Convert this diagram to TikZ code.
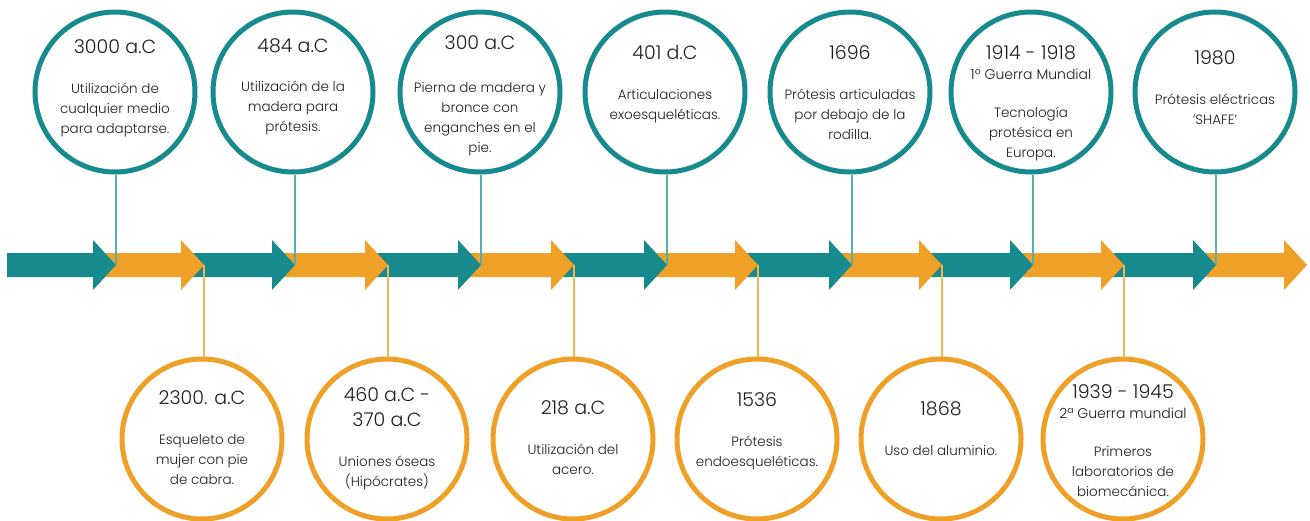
\documentclass[tikz,border=0pt]{standalone}
\usepackage{fontspec}
\setmainfont{Poppins}[UprightFont={* Light}]
\usepackage{tikz}
\usetikzlibrary{positioning,calc}

\definecolor{tealc}{RGB}{22,138,140}
\definecolor{orangec}{RGB}{239,160,38}
\definecolor{teall}{RGB}{86,172,174}
\definecolor{orangel}{RGB}{243,180,84}
\definecolor{inkc}{RGB}{30,30,30}

\begin{document}
\begin{tikzpicture}[
        x=1pt, y=-1pt,
        topcirc/.style={circle, draw=tealc, line width=5pt, fill=white, minimum size=160pt, inner sep=0pt},
        botcirc/.style={circle, draw=orangec, line width=5pt, fill=white, minimum size=160pt, inner sep=0pt},
        txt/.style={align=center, text=inkc, inner sep=0pt, font=\fontsize{13.5}{20}\selectfont},
        tline/.style={draw=teall, line width=1.8pt},
        oline/.style={draw=orangel, line width=1.8pt}
    ]
    \useasboundingbox (0,0) rectangle (1310,520);

    % Arrows, from the last one back to the first
    \foreach \k/\tip/\prev in {14/1307/1216,13/1216/1124,12/1124/1033,11/1033/942,10/942/852,9/852/758,8/758/667,7/667/574,6/574/481,5/481/388,4/388/295,3/295/204,2/204/116,1/116/19} {
        \ifodd\k \def\arrcol{tealc}\else\def\arrcol{orangec}\fi
        \fill[\arrcol] (\prev-12,253) -- (\tip-23,253) -- (\tip-23,240) -- (\tip,265)
            -- (\tip-23,290) -- (\tip-23,277) -- (\prev-12,277) -- cycle;
    }

    % Tip points on the timeline
    \foreach \k/\tip in {1/116,2/204,3/295,4/388,5/481,6/574,7/667,8/758,9/852,10/942,11/1033,12/1124,13/1216} {
        \coordinate (P\k) at (\tip,265);
    }

    % Top circles
    \node[topcirc] (C1) at (115,92) {};
    \node[topcirc] (C2) at (293,92) {};
    \node[topcirc] (C3) at (480,92) {};
    \node[topcirc] (C4) at (665,92) {};
    \node[topcirc] (C5) at (850,92) {};
    \node[topcirc] (C6) at (1031,92) {};
    \node[topcirc] (C7) at (1215,92) {};

    % Bottom circles
    \node[botcirc] (D1) at (202,439) {};
    \node[botcirc] (D2) at (387,439) {};
    \node[botcirc] (D3) at (573,439) {};
    \node[botcirc] (D4) at (757,439) {};
    \node[botcirc] (D5) at (941,439) {};
    \node[botcirc] (D6) at (1123,439) {};

    % Connect circles to the timeline
    \draw[tline] (P1 |- C1.south) -- (P1);
    \draw[tline] (P3 |- C2.south) -- (P3);
    \draw[tline] (P5 |- C3.south) -- (P5);
    \draw[tline] (P7 |- C4.south) -- (P7);
    \draw[tline] (P9 |- C5.south) -- (P9);
    \draw[tline] (P11 |- C6.south) -- (P11);
    \draw[tline] (P13 |- C7.south) -- (P13);
    \draw[oline] (P2 |- D1.north) -- (P2);
    \draw[oline] (P4 |- D2.north) -- (P4);
    \draw[oline] (P6 |- D3.north) -- (P6);
    \draw[oline] (P8 |- D4.north) -- (P8);
    \draw[oline] (P10 |- D5.north) -- (P10);
    \draw[oline] (P12 |- D6.north) -- (P12);

    % Texts
    \node[txt] (L1) at ($(C1)+(0,-4)$) {{\fontsize{19}{20}\selectfont 3000 a.C}\\[20pt]Utilización de\\cualquier medio\\para adaptarse.};
    \node[txt] (L2) at ($(C2)+(0,-5)$) {{\fontsize{19}{20}\selectfont 484 a.C}\\[19pt]Utilización de la\\madera para\\prótesis.};
    \node[txt] (L3) at ($(C3)+(0,4)$) {{\fontsize{19}{20}\selectfont 300 a.C}\\[23pt]Pierna de madera y\\bronce con\\enganches en el\\pie.};
    \node[txt] (L4) at ($(C4)+(0,-8)$) {{\fontsize{19}{20}\selectfont 401 d.C}\\[20pt]Articulaciones\\exoesqueléticas.};
    \node[txt] (L5) at ($(C5)+(0,1)$) {{\fontsize{19}{20}\selectfont 1696}\\[20pt]Prótesis articuladas\\por debajo de la\\rodilla.};
    \node[txt] (L6) at ($(C6)+(0,11)$) {{\fontsize{19}{20}\selectfont 1914 - 1918}\\{\fontsize{14}{20}\selectfont 1º Guerra Mundial}\\[18pt]Tecnología\\protésica en\\Europa.};
    \node[txt] (L7) at ($(C7)+(0,-4)$) {{\fontsize{19}{20}\selectfont 1980}\\[20pt]Prótesis eléctricas\\‘SHAFE’};

    \node[txt] (M1) at ($(D1)+(0,-1)$) {{\fontsize{19}{20}\selectfont 2300. a.C}\\[20pt]Esqueleto de\\mujer con pie\\de cabra.};
    \node[txt] (M2) at ($(D2)+(0,0)$) {{\fontsize{19}{20}\selectfont 460 a.C -}\\[5pt]{\fontsize{19}{20}\selectfont 370 a.C}\\[20pt]Uniones óseas\\(Hipócrates)};
    \node[txt] (M3) at ($(D3)+(0,-1)$) {{\fontsize{19}{20}\selectfont 218 a.C}\\[20pt]Utilización del\\acero.};
    \node[txt] (M4) at ($(D4)+(0,-8)$) {{\fontsize{19}{20}\selectfont 1536}\\[20pt]Prótesis\\endoesqueléticas.};
    \node[txt] (M5) at ($(D5)+(0,-10)$) {{\fontsize{19}{20}\selectfont 1868}\\[20pt]Uso del aluminio.};
    \node[txt] (M6) at ($(D6)+(0,2)$) {{\fontsize{19}{20}\selectfont 1939 - 1945}\\{\fontsize{14}{20}\selectfont 2ª Guerra mundial}\\[18pt]Primeros\\laboratorios de\\biomecánica.};

\end{tikzpicture}
\end{document}
